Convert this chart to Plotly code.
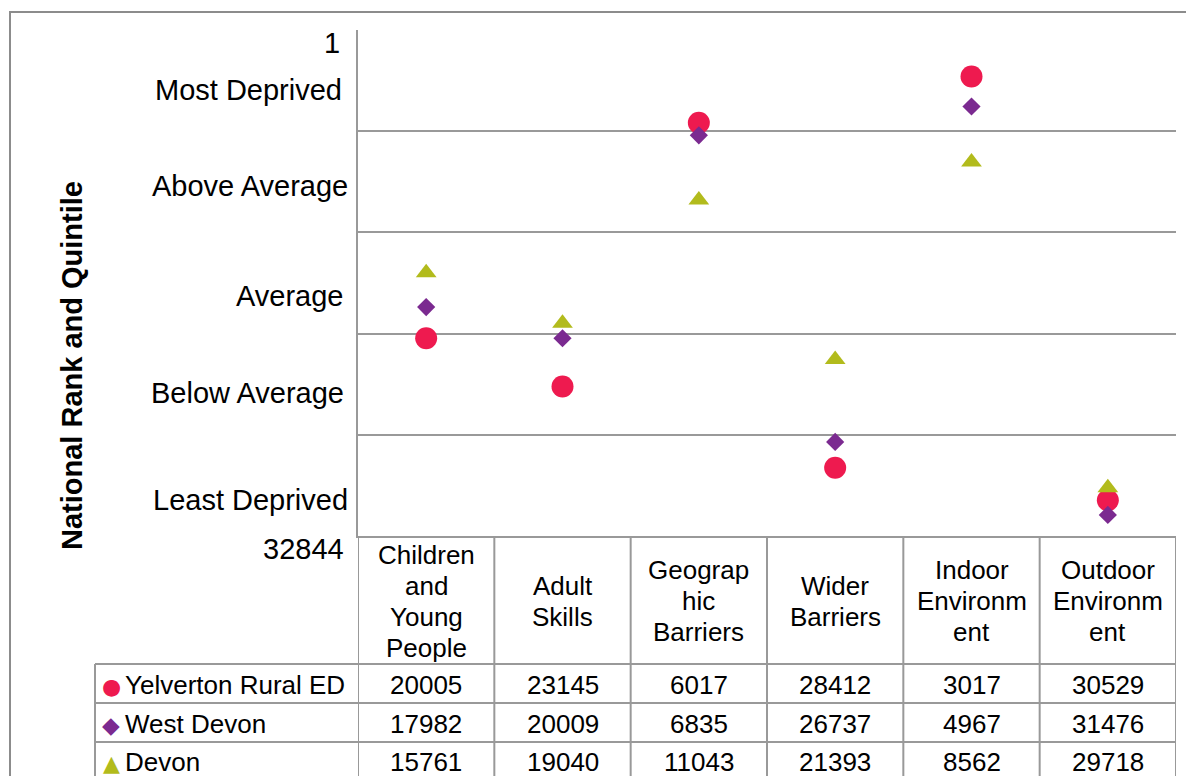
import plotly.graph_objects as go

# ---------------- data ----------------
categories = ["Children<br>and<br>Young<br>People", "Adult<br>Skills", "Geograp<br>hic<br>Barriers",
              "Wider<br>Barriers", "Indoor<br>Environm<br>ent", "Outdoor<br>Environm<br>ent"]
series_names = ["Yelverton Rural ED", "West Devon", "Devon"]
yelverton = [20005, 23145, 6017, 28412, 3017, 30529]
west_devon = [17982, 20009, 6835, 26737, 4967, 31476]
devon = [15761, 19040, 11043, 21393, 8562, 29718]
rank_min = 1
rank_max = 32844
quintile_labels = ["Most Deprived", "Above Average", "Average", "Below Average", "Least Deprived"]

# ---------------- style ----------------
colors = ["#EE1A4F", "#7B2A90", "#B2BB1C"]
symbols = ["circle", "diamond", "triangle-up"]
sizes = [22, 14, 18]
legend_glyphs = ["●", "◆", "▲"]
legend_glyph_sizes = [22, 23, 22]
FONT = "Liberation Sans, Arial, sans-serif"
GRID = "#999999"

OFF = 8  # page body margin
W, H = 1194 - OFF, 776 - OFF
L, R, T, B = 358, 1176, 30, 536   # plot area in reference pixels


def px(xp):
    return (xp - L) / (R - L)


def py(yp):
    return (B - yp) / (B - T)


fig = go.Figure()
xs = list(range(len(categories)))
for name, vals, c, s, sz in zip(series_names, [yelverton, west_devon, devon], colors, symbols, sizes):
    fig.add_trace(go.Scatter(x=xs, y=vals, mode="markers", name=name,
                             marker=dict(color=c, symbol=s, size=sz, line=dict(width=0)),
                             showlegend=False))

quint_bounds = [rank_max * k / 5 for k in range(1, 5)]

fig.update_layout(
    width=W, height=H,
    margin=dict(l=L - OFF, r=(1194 - R), t=T - OFF, b=(776 - B)),
    plot_bgcolor="white", paper_bgcolor="white",
    font=dict(family=FONT, color="black"),
    xaxis=dict(range=[-0.5, len(categories) - 0.5], showgrid=False, zeroline=False,
               showticklabels=False, ticks="", showline=True, linecolor=GRID, linewidth=2),
    yaxis=dict(range=[rank_max, rank_min], tickvals=quint_bounds, showticklabels=False,
               ticks="", showgrid=True, gridcolor=GRID, gridwidth=2, zeroline=False,
               showline=True, linecolor=GRID, linewidth=2),
)

ann = []
# y-axis end labels and quintile labels
ann.append(dict(text=str(rank_min), x=px(342), y=py(43), xanchor="right", yanchor="middle"))
ann.append(dict(text=str(rank_max), x=px(346), y=py(549), xanchor="right", yanchor="middle"))
label_y = [90, 186, 296, 393, 500]
label_right = [344, 350, 346, 346, 350]
for t, yy, xr in zip(quintile_labels, label_y, label_right):
    ann.append(dict(text=t, x=px(xr), y=py(yy), xanchor="right", yanchor="middle"))
for a in ann:
    a.update(xref="paper", yref="paper", showarrow=False, font=dict(size=29, family=FONT))

# axis title
ann.append(dict(text="<b>National Rank and Quintile</b>", x=px(72), y=py(366), xref="paper",
                yref="paper", showarrow=False, textangle=-90, xanchor="center", yanchor="middle",
                font=dict(size=29, family=FONT)))

# table header (each wrapped line placed with Excel-like line spacing)
LINE_H = 31
for i, c in enumerate(categories):
    parts = c.split("<br>")
    n = len(parts)
    for j, p in enumerate(parts):
        yy = 601 + (j - (n - 1) / 2) * LINE_H
        ann.append(dict(text=p, x=i, y=py(yy), xref="x", yref="paper", showarrow=False,
                        xanchor="center", yanchor="middle", font=dict(size=26, family=FONT)))

# table rows
row_y = [685, 724, 762]
for r, (name, vals, col, g, gs) in enumerate(zip(series_names, [yelverton, west_devon, devon], colors,
                                                 legend_glyphs, legend_glyph_sizes)):
    ann.append(dict(text=g, x=px(111), y=py(row_y[r] + 1), xref="paper", yref="paper", showarrow=False,
                    xanchor="center", yanchor="middle",
                    font=dict(size=gs, color=col, family="DejaVu Sans")))
    ann.append(dict(text=name, x=px(123), y=py(row_y[r]), xref="paper", yref="paper", showarrow=False,
                    xanchor="left", yanchor="middle", font=dict(size=26, family=FONT)))
    for i, v in enumerate(vals):
        ann.append(dict(text=str(v), x=i, y=py(row_y[r]), xref="x", yref="paper", showarrow=False,
                        xanchor="center", yanchor="middle", font=dict(size=26, family=FONT)))

fig.update_layout(annotations=ann)

shapes = []
line = dict(color=GRID, width=2)
# outer frame
shapes.append(dict(type="rect", xref="paper", yref="paper", x0=px(10), x1=px(1210),
                   y0=py(12), y1=py(800), line=dict(color="#8C8C8C", width=2), layer="below"))
# column lines in table
for k in range(len(categories) + 1):
    shapes.append(dict(type="line", xref="x", yref="paper", x0=k - 0.5, x1=k - 0.5,
                       y0=py(536), y1=py(800), line=line))
# row lines
for yy in [664, 703, 742, 781]:
    shapes.append(dict(type="line", xref="paper", yref="paper", x0=px(95), x1=1,
                       y0=py(yy), y1=py(yy), line=line))
shapes.append(dict(type="line", xref="paper", yref="paper", x0=px(95), x1=px(95),
                   y0=py(664), y1=py(800), line=line))
fig.update_layout(shapes=shapes)

fig.write_html("out.html")
